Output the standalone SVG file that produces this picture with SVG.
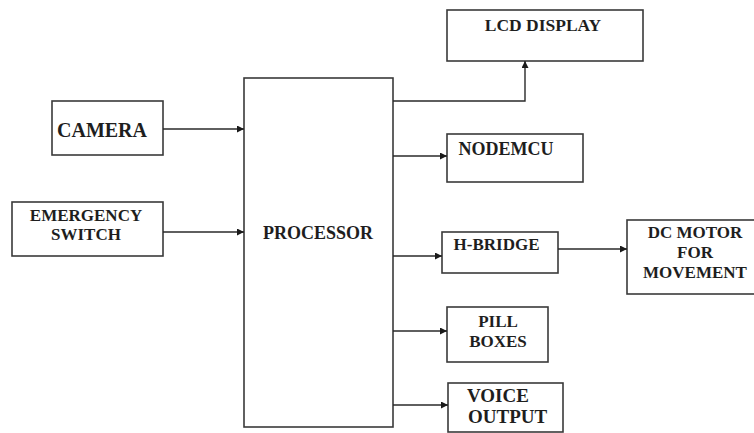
<svg xmlns="http://www.w3.org/2000/svg" width="754" height="433" viewBox="0 0 754 433">
<defs>
<style>
.box{fill:#fff;stroke:#3a3a3a;stroke-width:1.6}
.lbl{font-family:'Liberation Serif','DejaVu Serif','Times New Roman',serif;font-weight:bold;fill:#1e1e1e;text-anchor:middle}
.st{text-anchor:start}
.con{fill:none;stroke:#2a2a2a;stroke-width:1.4}
</style>
<marker id="arr" viewBox="0 0 10 10" refX="10" refY="5" markerWidth="8" markerHeight="7" markerUnits="userSpaceOnUse" orient="auto">
<path d="M0,0 L10,5 L0,10 Z" fill="#1a1a1a"/>
</marker>
</defs>
<rect width="754" height="433" fill="#fff"/>
<g id="camera"><rect class="box" x="52" y="101" width="111" height="54"/><text class="lbl" font-family="Liberation Serif, serif" x="102" y="137" font-size="20">CAMERA</text></g>
<g id="emergency"><rect class="box" x="12" y="202" width="151" height="54"/><text class="lbl" x="86" y="221" font-size="17">EMERGENCY</text><text class="lbl" x="86" y="240" font-size="17">SWITCH</text></g>
<g id="processor"><rect class="box" x="244" y="78" width="149" height="349"/><text class="lbl" x="318" y="239" font-size="18">PROCESSOR</text></g>
<g id="lcd"><rect class="box" x="447" y="10" width="196" height="51"/><text class="lbl" x="543" y="31" font-size="17.5">LCD DISPLAY</text></g>
<g id="nodemcu"><rect class="box" x="447" y="134" width="136" height="48"/><text class="lbl" x="506" y="155" font-size="18">NODEMCU</text></g>
<g id="hbridge"><rect class="box" x="442" y="232" width="116" height="41"/><text class="lbl" x="496.5" y="250" font-size="17">H-BRIDGE</text></g>
<g id="dcmotor"><rect class="box" x="627" y="220" width="130" height="74"/><text class="lbl" x="695" y="238" font-size="17">DC MOTOR</text><text class="lbl" x="695" y="258" font-size="17">FOR</text><text class="lbl" x="695" y="278" font-size="17">MOVEMENT</text></g>
<g id="pillboxes"><rect class="box" x="447" y="307" width="101" height="55"/><text class="lbl" x="498" y="327" font-size="17">PILL</text><text class="lbl" x="498" y="347" font-size="17">BOXES</text></g>
<g id="voice"><rect class="box" x="448" y="383" width="115" height="49"/><text class="lbl st" x="467" y="402" font-size="19">VOICE</text><text class="lbl st" x="468" y="423" font-size="19">OUTPUT</text></g>
<g id="connectors">
<line class="con" x1="163" y1="129" x2="244" y2="129" marker-end="url(#arr)"/>
<line class="con" x1="163" y1="232" x2="244" y2="232" marker-end="url(#arr)"/>
<polyline class="con" points="393,101 525,101 525,61" marker-end="url(#arr)"/>
<line class="con" x1="393" y1="156" x2="447" y2="156" marker-end="url(#arr)"/>
<line class="con" x1="393" y1="256" x2="442" y2="256" marker-end="url(#arr)"/>
<line class="con" x1="558" y1="249" x2="627" y2="249" marker-end="url(#arr)"/>
<line class="con" x1="393" y1="331" x2="447" y2="331" marker-end="url(#arr)"/>
<line class="con" x1="393" y1="405" x2="448" y2="405" marker-end="url(#arr)"/>
</g>
</svg>
